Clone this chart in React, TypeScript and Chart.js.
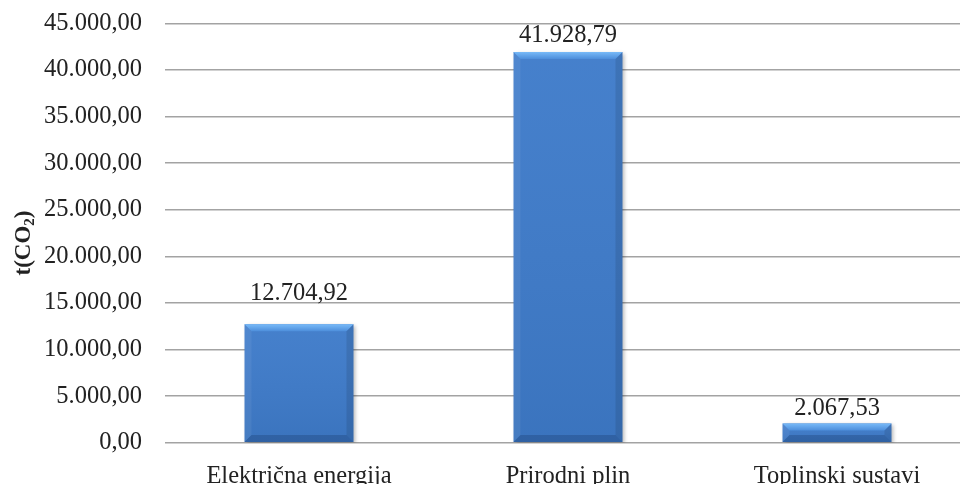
import React, { useEffect, useRef } from "react";
import { Chart, registerables } from "chart.js";

Chart.register(...registerables);

const categories = ["Električna energija", "Prirodni plin", "Toplinski sustavi"];
const emissions = [12704.92, 41928.79, 2067.53];
const yMin = 0;
const yMax = 45000;
const yStep = 5000;
const titleMain = "t(CO";
const titleSub = "2";
const titleEnd = ")";

// style constants (not data)
const LABEL_GAPS = [24, 10, 8];
const FONT_FAMILY = "'Liberation Serif', 'Times New Roman', serif";
const FONT_SIZE = 24.5;
const TEXT_COLOR = "#222222";

function fmt(v: number): string {
  const fixed = Math.abs(v).toFixed(2);
  const [intPart, dec] = fixed.split(".");
  const withDots = intPart.replace(/\B(?=(\d{3})+(?!\d))/g, ".");
  return (v < 0 ? "-" : "") + withDots + "," + dec;
}

const bevelPlugin = {
  id: "bevelBars",
  beforeDatasetsDraw(chart: any) {
    const ctx = chart.ctx;
    ctx.save();
    ctx.shadowColor = "rgba(0,0,0,0.3)";
    ctx.shadowBlur = 4;
    ctx.shadowOffsetX = 2;
    ctx.shadowOffsetY = 2;
  },
  afterDatasetsDraw(chart: any) {
    const ctx = chart.ctx;
    ctx.restore();
    const meta = chart.getDatasetMeta(0);
    meta.data.forEach((el: any) => {
      const p = el.getProps(["x", "y", "base", "width"], true);
      const x0 = p.x - p.width / 2;
      const x1 = p.x + p.width / 2;
      const y0 = Math.min(p.y, p.base);
      const y1 = Math.max(p.y, p.base);
      const b = Math.min(7, (y1 - y0) / 2, p.width / 2);
      ctx.save();
      // body shading
      const g = ctx.createLinearGradient(0, y0, 0, y1);
      g.addColorStop(0, "rgba(255,255,255,0.04)");
      g.addColorStop(1, "rgba(0,0,0,0.06)");
      ctx.fillStyle = g;
      ctx.fillRect(x0, y0, x1 - x0, y1 - y0);
      // top bevel
      const gt = ctx.createLinearGradient(0, y0, 0, y0 + b);
      gt.addColorStop(0, "#78baf8");
      gt.addColorStop(1, "#4d8edb");
      ctx.fillStyle = gt;
      ctx.beginPath();
      ctx.moveTo(x0, y0);
      ctx.lineTo(x1, y0);
      ctx.lineTo(x1 - b, y0 + b);
      ctx.lineTo(x0 + b, y0 + b);
      ctx.closePath();
      ctx.fill();
      // left bevel
      ctx.fillStyle = "rgba(255,255,255,0.06)";
      ctx.beginPath();
      ctx.moveTo(x0, y0);
      ctx.lineTo(x0 + b, y0 + b);
      ctx.lineTo(x0 + b, y1 - b);
      ctx.lineTo(x0, y1);
      ctx.closePath();
      ctx.fill();
      // right bevel
      ctx.fillStyle = "rgba(0,0,0,0.10)";
      ctx.beginPath();
      ctx.moveTo(x1, y0);
      ctx.lineTo(x1 - b, y0 + b);
      ctx.lineTo(x1 - b, y1 - b);
      ctx.lineTo(x1, y1);
      ctx.closePath();
      ctx.fill();
      // bottom bevel
      ctx.fillStyle = "rgba(10,30,70,0.22)";
      ctx.beginPath();
      ctx.moveTo(x0, y1);
      ctx.lineTo(x1, y1);
      ctx.lineTo(x1 - b, y1 - b);
      ctx.lineTo(x0 + b, y1 - b);
      ctx.closePath();
      ctx.fill();
      ctx.restore();
    });

    // value labels
    ctx.save();
    ctx.font = `${FONT_SIZE}px ${FONT_FAMILY}`;
    ctx.fillStyle = TEXT_COLOR;
    ctx.textAlign = "center";
    ctx.textBaseline = "alphabetic";
    meta.data.forEach((el: any, i: number) => {
      const p = el.getProps(["x", "y"], true);
      ctx.fillText(fmt(emissions[i]), p.x, p.y - LABEL_GAPS[i]);
    });
    ctx.restore();
  },
};

const titlePlugin = {
  id: "yTitle",
  afterDraw(chart: any) {
    const ctx = chart.ctx;
    const area = chart.chartArea;
    const cx = 24;
    const cy = (area.top + area.bottom) / 2 + 10;
    ctx.save();
    ctx.translate(cx, cy);
    ctx.rotate(-Math.PI / 2);
    ctx.fillStyle = TEXT_COLOR;
    ctx.textBaseline = "middle";
    ctx.textAlign = "left";
    const big = `bold 23px ${FONT_FAMILY}`;
    const small = `bold 15px ${FONT_FAMILY}`;
    ctx.font = big;
    const w1 = ctx.measureText(titleMain).width;
    const w3 = ctx.measureText(titleEnd).width;
    ctx.font = small;
    const w2 = ctx.measureText(titleSub).width;
    const total = w1 + w2 + w3;
    let x = -total / 2;
    ctx.font = big;
    ctx.fillText(titleMain, x, 0);
    x += w1;
    ctx.font = small;
    ctx.fillText(titleSub, x, 6);
    x += w2;
    ctx.font = big;
    ctx.fillText(titleEnd, x, 0);
    ctx.restore();
  },
};

export default function App() {
  const ref = useRef<HTMLCanvasElement | null>(null);

  useEffect(() => {
    if (!ref.current) return;
    const chart = new Chart(ref.current, {
      type: "bar",
      data: {
        labels: categories,
        datasets: [
          {
            data: emissions,
            backgroundColor: "#3e7bca",
            borderWidth: 0,
            barPercentage: 0.405,
            categoryPercentage: 1,
          },
        ],
      },
      options: {
        animation: false,
        responsive: false,
        devicePixelRatio: 1,
        layout: { padding: { top: 23.3, left: 0, right: 8.5, bottom: 0 } },
        plugins: {
          legend: { display: false },
          tooltip: { enabled: false },
        },
        scales: {
          x: {
            grid: { display: false },
            border: { display: false },
            ticks: {
              color: TEXT_COLOR,
              font: { family: FONT_FAMILY, size: FONT_SIZE },
              padding: 11,
              maxRotation: 0,
              autoSkip: false,
            },
            afterFit: (s: any) => {
              s.height = 41.3;
            },
          },
          y: {
            min: yMin,
            max: yMax,
            grid: { color: "#a3a3a3", lineWidth: 1.4, drawTicks: false },
            border: { display: false },
            ticks: {
              stepSize: yStep,
              color: TEXT_COLOR,
              font: { family: FONT_FAMILY, size: FONT_SIZE },
              padding: 22.5,
              callback: (v: any) => fmt(Number(v)),
            },
            afterFit: (s: any) => {
              s.width = 164.5;
              s.paddingTop = 0;
              s.paddingBottom = 0;
            },
          },
        },
      },
      plugins: [bevelPlugin, titlePlugin],
    });
    return () => chart.destroy();
  }, []);

  return (
    <div
      style={{
        position: "absolute",
        left: 0,
        top: 0,
        width: 960,
        height: 484,
        overflow: "hidden",
        background: "#ffffff",
      }}
    >
      <canvas ref={ref} width={980} height={484} style={{ display: "block" }} />
    </div>
  );
}
